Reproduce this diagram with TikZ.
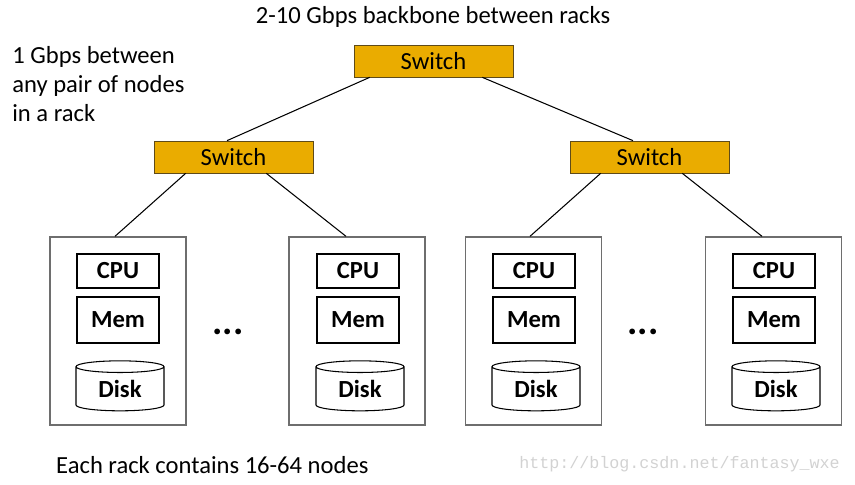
\documentclass[tikz,border=0pt]{standalone}
\usepackage{fontspec}
\setmainfont{Carlito}
\setmonofont{Liberation Mono}
\usetikzlibrary{shapes.geometric}
\definecolor{switchfill}{RGB}{234,172,0}
\definecolor{switchline}{RGB}{95,75,25}
\definecolor{rackline}{RGB}{110,110,110}
\definecolor{markgray}{RGB}{210,210,210}
\tikzset{
    switchbox/.style={draw=switchline, fill=switchfill, minimum width=3.18cm, minimum height=0.64cm, inner sep=0pt, font=\fontsize{14}{16}\selectfont},
    rackbox/.style={draw=rackline, line width=0.8pt, minimum width=2.72cm, minimum height=3.76cm, inner sep=0pt},
    partbox/.style={draw, line width=0.6pt, minimum width=1.64cm, inner sep=0pt, font=\bfseries\fontsize{14}{16}\selectfont},
    diskbox/.style={draw, line width=0.6pt, cylinder, shape border rotate=90, aspect=0.27, minimum width=1.76cm, minimum height=1.0cm, inner sep=0pt, font=\bfseries\fontsize{14}{16}\selectfont},
    dotsmark/.style={anchor=base, font=\bfseries\fontsize{22}{24}\selectfont},
    link/.style={line width=0.6pt},
    textfont/.style={font=\fontsize{14}{16.4}\selectfont}
}
\begin{document}
\begin{tikzpicture}[x=0.02cm, y=-0.02cm]
    \useasboundingbox (0,0) rectangle (855,484);
    \node[textfont] (backbone) at (433,17) {2-10 Gbps backbone between racks};
    \node[textfont, align=left, anchor=north west, inner sep=0pt] (intra) at (12,46) {1 Gbps between\\any pair of nodes\\in a rack};
    \node[switchbox] (swtop) at (433.5,61) {Switch};
    \node[switchbox] (swleft) at (233.5,157) {Switch};
    \node[switchbox] (swright) at (649.5,157) {Switch};

    \node[rackbox] (rack1) at (118,331) {};
    \node[partbox, minimum height=0.68cm] (cpu1) at (118,271) {CPU};
    \node[partbox, minimum height=0.92cm] (mem1) at (118,320) {Mem};
    \node[diskbox] (disk1) at (120,389) {Disk};
    \node[rackbox] (rack2) at (357,331) {};
    \node[partbox, minimum height=0.68cm] (cpu2) at (358,271) {CPU};
    \node[partbox, minimum height=0.92cm] (mem2) at (358,320) {Mem};
    \node[diskbox] (disk2) at (360,389) {Disk};
    \node[rackbox] (rack3) at (533.5,331) {};
    \node[partbox, minimum height=0.68cm] (cpu3) at (534,271) {CPU};
    \node[partbox, minimum height=0.92cm] (mem3) at (534,320) {Mem};
    \node[diskbox] (disk3) at (536,389) {Disk};
    \node[rackbox] (rack4) at (773.5,331) {};
    \node[partbox, minimum height=0.68cm] (cpu4) at (774,271) {CPU};
    \node[partbox, minimum height=0.92cm] (mem4) at (774,320) {Mem};
    \node[diskbox] (disk4) at (776,389) {Disk};

    \node[dotsmark] (dotsl) at (228,334) {...};
    \node[dotsmark] (dotsr) at (643,334) {...};

    \draw[link] ([xshift=0.32cm]swtop.south west) -- ([xshift=-0.13cm]swleft.north);
    \draw[link] ([xshift=-0.62cm]swtop.south east) -- ([xshift=-0.33cm]swright.north);
    \draw[link] ([xshift=0.64cm]swleft.south west) -- ([xshift=-0.06cm]rack1.north);
    \draw[link] ([xshift=-0.94cm]swleft.south east) -- ([xshift=-0.22cm]rack2.north);
    \draw[link] ([xshift=0.62cm]swright.south west) -- ([xshift=-0.07cm]rack3.north);
    \draw[link] ([xshift=-0.94cm]swright.south east) -- ([xshift=-0.23cm]rack4.north);

    \node[textfont, anchor=west] (racksize) at (50,465) {Each rack contains 16-64 nodes};
    \node[anchor=east, text=markgray, font=\ttfamily\fontsize{9.5}{11}\selectfont] (mark) at (846,464) {http://blog.csdn.net/fantasy\_wxe};
\end{tikzpicture}
\end{document}
